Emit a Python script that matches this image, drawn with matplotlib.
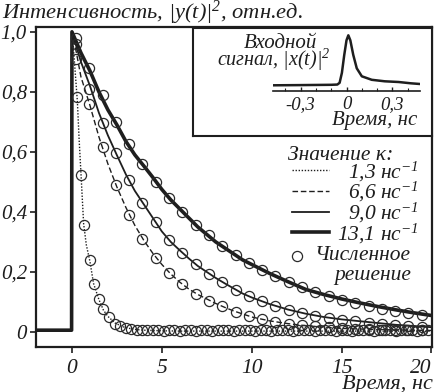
import matplotlib
matplotlib.use('Agg')
import matplotlib.pyplot as plt
import numpy as np

plt.rcParams['font.family'] = ['Liberation Serif', 'DejaVu Serif']
plt.rcParams['font.style'] = 'italic'
plt.rcParams['mathtext.fontset'] = 'custom'
plt.rcParams['mathtext.it'] = 'Liberation Serif:italic'
plt.rcParams['mathtext.rm'] = 'Liberation Serif:italic'

INK = '#1e1e1e'

# ---------------- data ----------------
kappa_labels = ['1,3 нс$^{-1}$', '6,6 нс$^{-1}$', '9,0 нс$^{-1}$', '13,1 нс$^{-1}$']

# experimental curves, common time grid for the three slower decays
t_exp = [-2.0, -0.02, 0.0, 0.25, 0.5, 1.0, 1.5, 2.0, 2.5, 3.0, 3.5, 4.0, 4.5,
         5.0, 5.5, 6.0, 6.5, 7.0, 7.5, 8.0, 8.5, 9.0, 9.5, 10.0, 11.0, 12.0,
         13.0, 14.0, 15.0, 16.0, 17.0, 18.0, 19.0, 20.0]
y_131 = [0.006, 0.006, 1.0, 0.965, 0.93, 0.87, 0.80, 0.74, 0.69, 0.635, 0.59,
         0.553, 0.515, 0.475, 0.44, 0.41, 0.38, 0.35, 0.325, 0.30, 0.28, 0.26,
         0.24, 0.225, 0.195, 0.168, 0.142, 0.125, 0.11, 0.097, 0.085, 0.074,
         0.064, 0.055]
y_90 = [0.006, 0.006, 1.0, 0.95, 0.90, 0.82, 0.73, 0.655, 0.589, 0.525, 0.47,
        0.425, 0.38, 0.335, 0.30, 0.272, 0.245, 0.22, 0.20, 0.18, 0.162, 0.145,
        0.128, 0.115, 0.093, 0.075, 0.061, 0.05, 0.042, 0.036, 0.03, 0.024,
        0.02, 0.016]
y_66 = [0.006, 0.006, 1.0, 0.93, 0.85, 0.755, 0.65, 0.56, 0.483, 0.415, 0.355,
        0.305, 0.262, 0.225, 0.193, 0.166, 0.143, 0.125, 0.11, 0.095, 0.082,
        0.07, 0.06, 0.05, 0.037, 0.028, 0.021, 0.016, 0.012, 0.01, 0.008,
        0.007, 0.006, 0.005]
# fastest decay (kappa = 1.3)
t_13 = [-2.0, -0.02, 0.0, 0.1, 0.2, 0.3, 0.4, 0.5, 0.65, 0.8, 1.0, 1.2, 1.5,
        1.75, 2.0, 2.4, 2.8, 3.2, 3.6, 4.0, 5.0, 6.0, 8.0, 10.0, 12.0, 14.0,
        16.0, 18.0, 20.0]
y_13 = [0.006, 0.006, 1.0, 0.93, 0.85, 0.77, 0.64, 0.53, 0.36, 0.29, 0.235,
        0.162, 0.108, 0.073, 0.052, 0.03, 0.018, 0.012, 0.008, 0.006, 0.004,
        0.003, 0.003, 0.003, 0.003, 0.003, 0.003, 0.003, 0.003]

# numerical solution (circles)
tc_slow = [0.22, 0.96, 1.7, 2.44, 3.18, 3.92, 4.66, 5.4, 6.14, 6.88, 7.62, 8.36,
           9.1, 9.84, 10.58, 11.32, 12.06, 12.8, 13.54, 14.28, 15.02, 15.76,
           16.5, 17.24, 17.98, 18.72, 19.46]
c_131 = [0.98, 0.88, 0.79, 0.70, 0.625, 0.56, 0.50, 0.447, 0.40, 0.357, 0.322,
         0.288, 0.258, 0.231, 0.207, 0.186, 0.167, 0.149, 0.134, 0.12, 0.108,
         0.097, 0.087, 0.078, 0.07, 0.063, 0.057]
c_90 = [0.96, 0.81, 0.695, 0.595, 0.505, 0.43, 0.365, 0.306, 0.263, 0.225,
        0.193, 0.165, 0.141, 0.12, 0.102, 0.087, 0.074, 0.063, 0.054, 0.047,
        0.041, 0.036, 0.031, 0.027, 0.024, 0.021, 0.018]
c_66 = [0.91, 0.76, 0.615, 0.49, 0.39, 0.31, 0.248, 0.197, 0.159, 0.128, 0.104,
        0.085, 0.068, 0.052, 0.042, 0.034, 0.028, 0.023, 0.019, 0.015, 0.012,
        0.011, 0.009, 0.008, 0.007, 0.006, 0.006]
tc_fast = [0.28, 0.5, 0.65, 0.98, 1.2, 1.48, 1.72, 2.04, 2.4, 2.7, 3.0, 3.3, 3.6,
           3.9, 4.2, 4.5, 4.8, 5.1, 5.4, 5.7, 6.0, 6.3, 6.6, 6.9, 7.2, 7.5, 7.8,
           8.1, 8.4, 8.7, 9.0, 9.3, 9.6, 9.9, 10.2, 10.5, 10.8, 11.1, 11.4,
           11.7, 12.0, 12.3, 12.6, 12.9, 13.2, 13.5, 13.8, 14.1, 14.4, 14.7,
           15.0, 15.3, 15.6, 15.9, 16.2, 16.5, 16.8, 17.1, 17.4, 17.7, 18.0,
           18.3, 18.6, 18.9, 19.2, 19.5, 19.8]
c_13 = [0.783, 0.522, 0.356, 0.239, 0.161, 0.111, 0.075, 0.05, 0.028, 0.02,
        0.013, 0.01, 0.008, 0.007, 0.006, 0.005, 0.006, 0.004, 0.005, 0.006,
        0.004, 0.005, 0.005, 0.004, 0.006, 0.005, 0.004, 0.005, 0.006, 0.005,
        0.004, 0.005, 0.005, 0.006, 0.004, 0.005, 0.005, 0.004, 0.006, 0.005,
        0.005, 0.004, 0.005, 0.006, 0.005, 0.004, 0.005, 0.005, 0.006, 0.004,
        0.005, 0.005, 0.004, 0.006, 0.005, 0.005, 0.004, 0.005, 0.006, 0.005,
        0.004, 0.005, 0.005, 0.006, 0.004, 0.005, 0.005]

# input pulse (inset)
t_in = [-0.48, -0.3, -0.1, -0.06, -0.045, -0.03, -0.015, 0.0, 0.012, 0.025,
        0.044, 0.067, 0.1, 0.165, 0.25, 0.34, 0.42, 0.48]
y_in = [0.0, 0.004, 0.01, 0.015, 0.05, 0.25, 0.6, 0.9, 1.0, 0.9, 0.61, 0.34,
        0.18, 0.11, 0.08, 0.066, 0.04, 0.026]

x_ticks = [0, 5, 10, 15, 20]
x_ticklabels = ['0', '5', '10', '15', '20']
y_ticks = [0, 0.2, 0.4, 0.6, 0.8, 1.0]
y_ticklabels = ['0', '0,2', '0,4', '0,6', '0,8', '1,0']
in_ticks = [-0.3, 0.0, 0.3]
in_ticklabels = ['-0,3', '0', '0,3']

# ---------------- figure ----------------
W, H = 436, 392
DPI = 100
fig = plt.figure(figsize=(W / DPI, H / DPI), dpi=DPI)


def fx(px):
    return px / W


def fy(py):
    return 1 - py / H


ax = fig.add_axes([fx(36), fy(347), fx(432) - fx(36), fy(27) - fy(347)])

l13, = ax.plot(t_13, y_13, color=INK, lw=1.0, ls=(0, (1, 1.2)))
l66, = ax.plot(t_exp, y_66, color=INK, lw=1.0, ls=(0, (4, 2)))
l90, = ax.plot(t_exp, y_90, color=INK, lw=1.3, ls='-')
l131, = ax.plot(t_exp, y_131, color=INK, lw=2.6, ls='-')

ckw = dict(ls='none', marker='o', ms=7.3, mfc='none', mec='#2a2a2a', mew=0.9)
circ, = ax.plot(tc_fast, c_13, **ckw)
ax.plot(tc_slow, c_66, **ckw)
ax.plot(tc_slow, c_90, **ckw)
ax.plot(tc_slow, c_131, **ckw)

ax.set_xlim(-2, 20.03)
ax.set_ylim(-0.05, 1.016)
ax.set_xticks(x_ticks)
ax.set_xticklabels(x_ticklabels)
ax.set_yticks(y_ticks)
ax.set_yticklabels(y_ticklabels)
ax.tick_params(direction='out', length=4, width=1.2, colors=INK, pad=2.5)
ax.tick_params(axis='y', labelsize=15)
ax.tick_params(axis='x', labelsize=15.5, pad=4.5)
ax.get_xticklabels()[-1].set_horizontalalignment('right')
ax.get_xticklabels()[-1].set_x(20.03)
for s in ax.spines.values():
    s.set_linewidth(1.6)
    s.set_color(INK)

fig.text(fx(2), fy(19), 'Интенсивность, |y(t)|$^2$, отн.ед.', ha='left',
         va='baseline', fontsize=16.2, color=INK)
fig.text(fx(433), fy(388.5), 'Время, нс', ha='right', va='baseline',
         fontsize=16, color=INK)

LFS = 15.5
leg = ax.legend([l13, l66, l90, l131, circ],
                kappa_labels + ['Численное\nрешение'],
                title='Значение κ:', loc='upper left',
                bbox_to_anchor=(fx(289), fy(146)), bbox_transform=fig.transFigure,
                frameon=False, fontsize=LFS, title_fontsize=LFS,
                handlelength=(37 * 72 / DPI) / LFS, handletextpad=0.4,
                labelspacing=0.0, alignment='left', borderpad=0,
                borderaxespad=0, numpoints=1)
for t in leg.get_texts():
    t.set_color(INK)
leg.get_title().set_color(INK)
leg.get_texts()[-1].set_multialignment('right')
leg.get_texts()[-1].set_linespacing(1.06)

# inset frame and plot
axbox = fig.add_axes([fx(193), fy(136), fx(432) - fx(193), fy(28) - fy(136)])
axbox.set_xticks([])
axbox.set_yticks([])
for s in axbox.spines.values():
    s.set_linewidth(1.5)
    s.set_color(INK)

axin = fig.add_axes([fx(273), fy(91.3), fx(420) - fx(273), fy(33) - fy(91.3)])
axin.patch.set_alpha(0)
axin.plot(t_in, y_in, color=INK, lw=1.8)
axin.set_xlim(-0.48, 0.48)
axin.set_ylim(-0.12, 1.046)
for k in ['top', 'left', 'right']:
    axin.spines[k].set_visible(False)
axin.spines['bottom'].set_linewidth(1.2)
axin.spines['bottom'].set_color(INK)
axin.set_yticks([])
axin.set_xticks(in_ticks)
axin.set_xticklabels(in_ticklabels)
axin.set_xticks([-0.4, -0.2, -0.1, 0.1, 0.2, 0.4], minor=True)
axin.tick_params(axis='x', which='major', direction='in', length=3, width=1,
                 colors=INK, labelsize=13.5, pad=3.5)
axin.tick_params(axis='x', which='minor', direction='in', length=2, width=0.8,
                 colors=INK)

fig.text(fx(317), fy(48.5), 'Входной', ha='right', va='baseline', fontsize=15,
         color=INK)
fig.text(fx(331), fy(66), 'сигнал, |x(t)|$^2$', ha='right', va='baseline',
         fontsize=14.5, color=INK)
fig.text(fx(417), fy(125.5), 'Время, нс', ha='right', va='baseline',
         fontsize=15, color=INK)

# ---------- legend fine layout: right-aligned labels, compact rows ----------
fig.canvas.draw()
r = fig.canvas.get_renderer()
texts = leg.get_texts()
title = leg.get_title()
column = leg._legend_handle_box.get_children()[0]
rows = column.get_children()
for i, row in enumerate(rows):
    w = texts[i].get_window_extent(r).width
    right = 417 if i < 4 else 413
    row.sep = (right - 290 - 37 - w) * 72 / DPI


def cy(t):
    e = t.get_window_extent(r)
    return 0.5 * (e.y0 + e.y1)


fig.canvas.draw()
pitch = cy(texts[0]) - cy(texts[1])
column.sep += (20.7 - pitch) * 72 / DPI
fig.canvas.draw()
gap = cy(title) - cy(texts[0])
leg._legend_box.sep += (16.5 - gap) * 72 / DPI
fig.canvas.draw()
te = title.get_window_extent(r)
dx = 288 - te.x0
dy = (H - 155) - cy(title)
leg.set_bbox_to_anchor((fx(289) + dx / W, fy(146) + dy / H),
                       transform=fig.transFigure)
fig.canvas.draw()

# push the two-line entry down so its first line sits at the reference height
e = texts[-1].get_window_extent(r)
first_line = e.y1 - 0.26 * e.height
shift_px = first_line - (H - 256)
if shift_px > 0:
    p = shift_px * 72 / DPI
    rows[-1].pad = p
    rows[-1].sep -= p
fig.canvas.draw()

# place the circle sample left of the two-line label, level with its first line
mh = leg.legend_handles[-1]
xd, yd = mh.get_data()
tr = mh.get_transform()
cur = tr.transform((xd[1], yd[1]))
e = texts[-1].get_window_extent(r)
target_y = e.y1 - 0.26 * e.height
ddx = (297 - cur[0]) * 72 / DPI
ddy = (target_y - cur[1]) * 72 / DPI
mh.set_data(np.asarray(xd) + ddx, np.asarray(yd) + ddy)

fig.savefig('out.png', dpi=DPI)
